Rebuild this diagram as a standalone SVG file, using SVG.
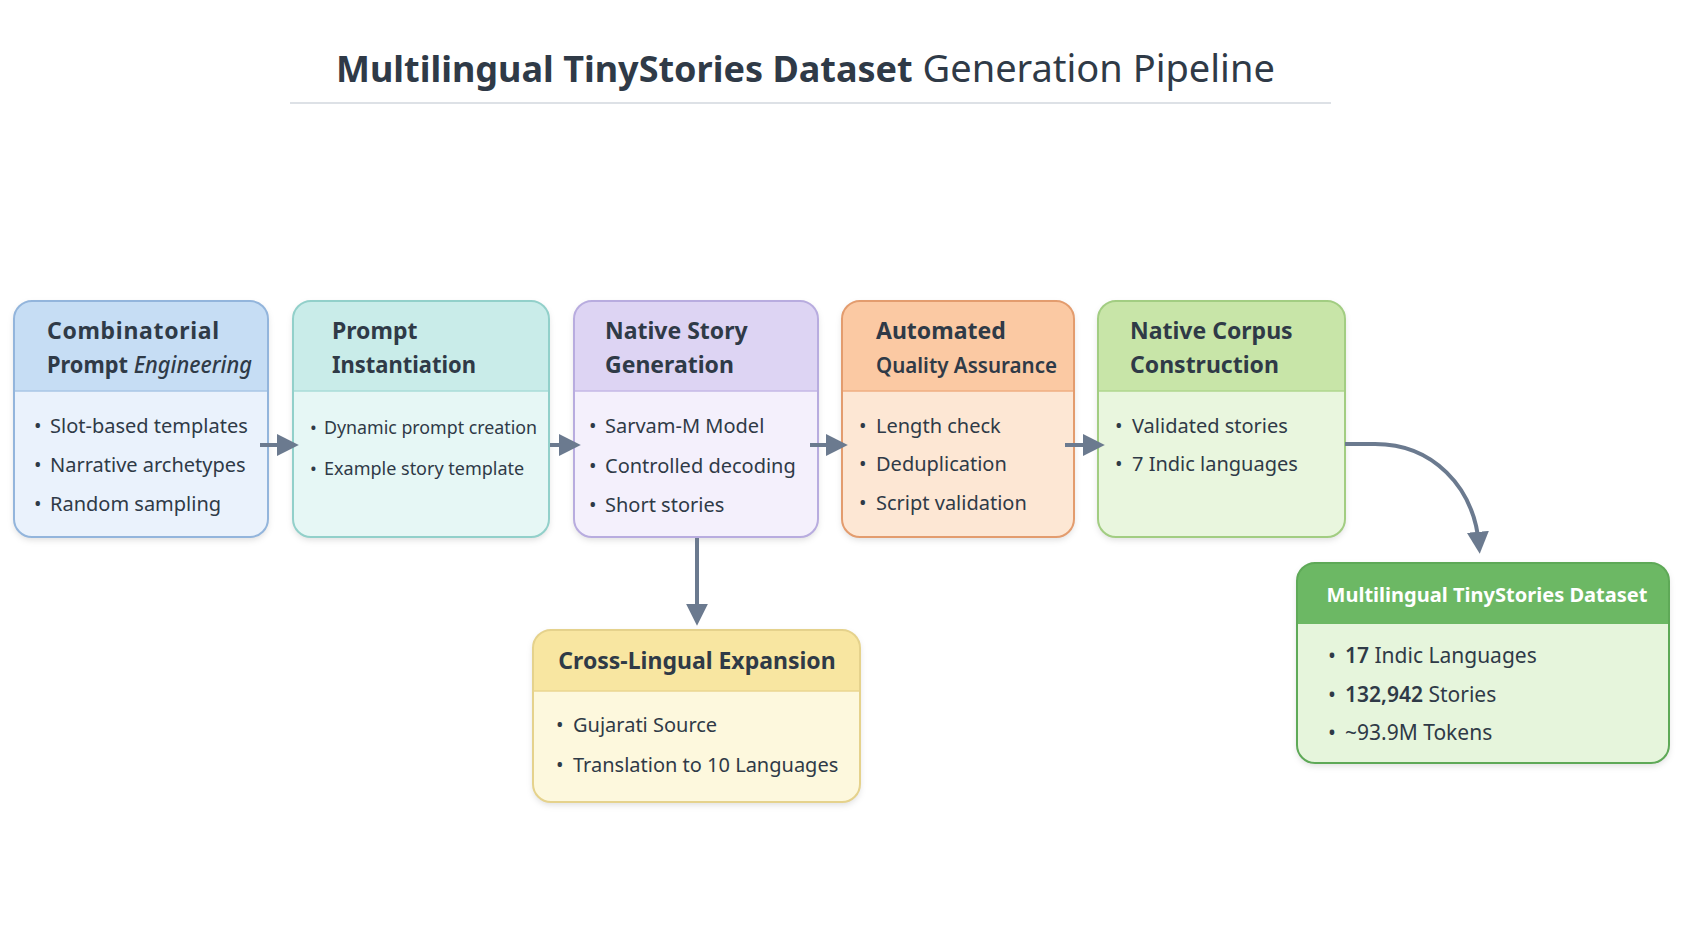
<svg xmlns="http://www.w3.org/2000/svg" width="1699" height="946" viewBox="0 0 1699 946">
<defs>
<style>
text{font-family:"Noto Sans","Open Sans","DejaVu Sans",sans-serif;fill:#2f3a47}
.ttl{font-size:23px;font-weight:700}
.it{font-style:italic;font-weight:500}
.li{font-size:20px}
.li2{font-size:18px}
.conn{fill:none;stroke:#6b7a8f;stroke-width:4}
.div{stroke-width:1.5;fill:none}
</style>
<filter id="sh" x="-10%" y="-10%" width="120%" height="125%">
<feDropShadow dx="0" dy="3" stdDeviation="3" flood-color="#000" flood-opacity="0.13"/>
</filter>
<marker id="ah" viewBox="0 0 10 10" refX="6" refY="5" markerWidth="22" markerHeight="22" markerUnits="userSpaceOnUse" orient="auto">
<path d="M0,0 L10,5 L0,10 z" fill="#6b7a8f"/>
</marker>
</defs>
<rect width="1699" height="946" fill="#ffffff"/>
<g id="title">
<text x="336" y="82" style="font-size:36px"><tspan font-weight="700">Multilingual TinyStories Dataset</tspan><tspan style="font-size:38px"> Generation Pipeline</tspan></text>
<line x1="290" y1="103" x2="1331" y2="103" stroke="#dde1e6" stroke-width="2"/>
</g>

<g id="n1">
<g filter="url(#sh)"><rect x="14" y="301" width="254" height="236" rx="18" fill="#eaf2fc"/></g>
<path d="M14,391 V319 A18,18 0 0 1 32,301 H250 A18,18 0 0 1 268,319 V391 Z" fill="#c6ddf4"/>
<line class="div" x1="14" y1="391" x2="268" y2="391" stroke="#a9c6e6"/>
<rect x="14" y="301" width="254" height="236" rx="18" fill="none" stroke="#93b5dc" stroke-width="2"/>
<text class="ttl" x="47" y="339" textLength="172" lengthAdjust="spacing">Combinatorial</text>
<text class="ttl" x="47" y="373" textLength="205" lengthAdjust="spacingAndGlyphs">Prompt <tspan class="it">Engineering</tspan></text>
<g class="li"><text class="li" x="34" y="433">•</text><text class="li" x="50" y="433">Slot-based templates</text>
<text class="li" x="34" y="472">•</text><text class="li" x="50" y="472">Narrative archetypes</text>
<text class="li" x="34" y="511">•</text><text class="li" x="50" y="511">Random sampling</text></g>
</g>

<g id="n2">
<g filter="url(#sh)"><rect x="293" y="301" width="256" height="236" rx="18" fill="#e6f7f5"/></g>
<path d="M293,391 V319 A18,18 0 0 1 311,301 H531 A18,18 0 0 1 549,319 V391 Z" fill="#c9ece9"/>
<line class="div" x1="293" y1="391" x2="549" y2="391" stroke="#a8dcd7"/>
<rect x="293" y="301" width="256" height="236" rx="18" fill="none" stroke="#92d0ca" stroke-width="2"/>
<text class="ttl" x="332" y="339">Prompt</text>
<text class="ttl" x="332" y="373" textLength="144" lengthAdjust="spacingAndGlyphs">Instantiation</text>
<text class="li2" x="310" y="434">•</text><text class="li2" x="324" y="434" textLength="213" lengthAdjust="spacingAndGlyphs">Dynamic prompt creation</text>
<text class="li2" x="310" y="475">•</text><text class="li2" x="324" y="475">Example story template</text>
</g>

<g id="n3">
<g filter="url(#sh)"><rect x="574" y="301" width="244" height="236" rx="18" fill="#f4f0fc"/></g>
<path d="M574,391 V319 A18,18 0 0 1 592,301 H800 A18,18 0 0 1 818,319 V391 Z" fill="#ddd4f3"/>
<line class="div" x1="574" y1="391" x2="818" y2="391" stroke="#c4b8e6"/>
<rect x="574" y="301" width="244" height="236" rx="18" fill="none" stroke="#b8acdf" stroke-width="2"/>
<text class="ttl" x="605" y="339">Native Story</text>
<text class="ttl" x="605" y="373">Generation</text>
<text class="li" x="589" y="433">•</text><text class="li" x="605" y="433">Sarvam-M Model</text>
<text class="li" x="589" y="473">•</text><text class="li" x="605" y="473">Controlled decoding</text>
<text class="li" x="589" y="512">•</text><text class="li" x="605" y="512">Short stories</text>
</g>

<g id="n4">
<g filter="url(#sh)"><rect x="842" y="301" width="232" height="236" rx="18" fill="#fde7d4"/></g>
<path d="M842,391 V319 A18,18 0 0 1 860,301 H1056 A18,18 0 0 1 1074,319 V391 Z" fill="#fbc9a3"/>
<line class="div" x1="842" y1="391" x2="1074" y2="391" stroke="#efae82"/>
<rect x="842" y="301" width="232" height="236" rx="18" fill="none" stroke="#e39c6e" stroke-width="2"/>
<text class="ttl" x="876" y="339">Automated</text>
<text class="ttl" x="876" y="373" style="font-size:22px;font-weight:600" textLength="181" lengthAdjust="spacingAndGlyphs">Quality Assurance</text>
<text class="li" x="859" y="433">•</text><text class="li" x="876" y="433">Length check</text>
<text class="li" x="859" y="471">•</text><text class="li" x="876" y="471">Deduplication</text>
<text class="li" x="859" y="510">•</text><text class="li" x="876" y="510">Script validation</text>
</g>

<g id="n5">
<g filter="url(#sh)"><rect x="1098" y="301" width="247" height="236" rx="18" fill="#e9f6de"/></g>
<path d="M1098,391 V319 A18,18 0 0 1 1116,301 H1327 A18,18 0 0 1 1345,319 V391 Z" fill="#c8e5a8"/>
<line class="div" x1="1098" y1="391" x2="1345" y2="391" stroke="#afd68e"/>
<rect x="1098" y="301" width="247" height="236" rx="18" fill="none" stroke="#a2cd82" stroke-width="2"/>
<text class="ttl" x="1130" y="339">Native Corpus</text>
<text class="ttl" x="1130" y="373">Construction</text>
<text class="li" x="1115" y="433">•</text><text class="li" x="1132" y="433">Validated stories</text>
<text class="li" x="1115" y="471">•</text><text class="li" x="1132" y="471">7 Indic languages</text>
</g>

<g id="n6">
<g filter="url(#sh)"><rect x="1297" y="563" width="372" height="200" rx="18" fill="#e6f5dc"/></g>
<path d="M1297,624 V581 A18,18 0 0 1 1315,563 H1651 A18,18 0 0 1 1669,581 V624 Z" fill="#6cb864"/>
<rect x="1297" y="563" width="372" height="200" rx="18" fill="none" stroke="#5ea957" stroke-width="2"/>
<text x="1487" y="602" text-anchor="middle" style="font-size:20px;font-weight:700;fill:#ffffff" textLength="321" lengthAdjust="spacingAndGlyphs">Multilingual TinyStories Dataset</text>
<text style="font-size:21px" x="1328" y="663">•</text><text style="font-size:21px" x="1345" y="663"><tspan font-weight="600">17</tspan> Indic Languages</text>
<text style="font-size:21px" x="1328" y="702">•</text><text style="font-size:21px" x="1345" y="702"><tspan font-weight="600">132,942</tspan> Stories</text>
<text style="font-size:21px" x="1328" y="740">•</text><text style="font-size:21px" x="1345" y="740">~93.9M Tokens</text>
</g>

<g id="n7">
<g filter="url(#sh)"><rect x="533" y="630" width="327" height="172" rx="18" fill="#fdf8dd"/></g>
<path d="M533,691 V648 A18,18 0 0 1 551,630 H842 A18,18 0 0 1 860,648 V691 Z" fill="#f8e6a1"/>
<line class="div" x1="533" y1="691" x2="860" y2="691" stroke="#ead690"/>
<rect x="533" y="630" width="327" height="172" rx="18" fill="none" stroke="#e5d28c" stroke-width="2"/>
<text class="ttl" x="697" y="669" text-anchor="middle" style="font-size:23px">Cross-Lingual Expansion</text>
<text class="li" x="556" y="732">•</text><text class="li" x="573" y="732">Gujarati Source</text>
<text class="li" x="556" y="772">•</text><text class="li" x="573" y="772">Translation to 10 Languages</text>
</g>

<g id="connectors">
<path class="conn" d="M260,445 H290" marker-end="url(#ah)"/>
<path class="conn" d="M550,445 H572" marker-end="url(#ah)"/>
<path class="conn" d="M810,445 H839" marker-end="url(#ah)"/>
<path class="conn" d="M1065,445 H1096" marker-end="url(#ah)"/>
<path class="conn" d="M1345,444 H1375 C1432,444 1474,486 1479,545" marker-end="url(#ah)"/>
<path class="conn" d="M697,538 V617" marker-end="url(#ah)"/>
</g>
</svg>
